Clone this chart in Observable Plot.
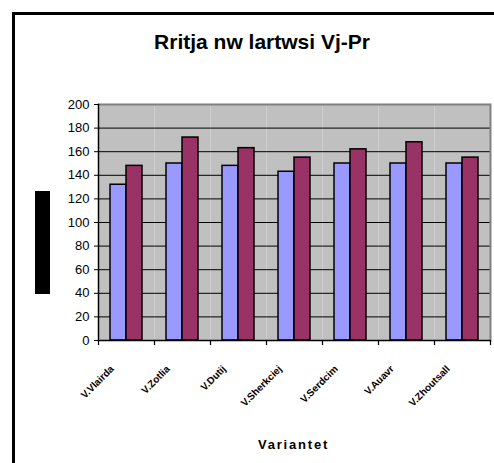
<!DOCTYPE html>
<html><head><meta charset="utf-8">
<script src="https://cdn.jsdelivr.net/npm/d3@7"></script>
<script src="https://cdn.jsdelivr.net/npm/@observablehq/plot@0.6"></script>
<style>
html,body{margin:0;padding:0;background:#fff;overflow:hidden;width:494px;height:463px;}
#wrap{position:relative;width:494px;height:463px;overflow:hidden;font-family:"Liberation Sans",Arial,sans-serif;color:#000;}
#bleft{position:absolute;left:12px;top:12px;width:3px;height:451px;background:#000;}
#btop{position:absolute;left:12px;top:12px;width:482px;height:3px;background:#000;}
#chart{position:absolute;left:0;top:0;}
#title{position:absolute;top:31px;left:13px;width:498px;text-align:center;font-weight:bold;font-size:21px;line-height:21px;white-space:nowrap;}
#xtitle{position:absolute;top:438px;left:95px;width:397px;text-align:center;font-weight:bold;font-size:13px;line-height:13px;letter-spacing:1.8px;}
#ytitle{position:absolute;left:35px;top:191px;width:15px;height:103px;background:#000;color:#000;font-size:11px;overflow:hidden;writing-mode:vertical-rl;transform:rotate(180deg);text-align:center;}
</style>
</head><body>
<div id="wrap">
  <div id="bleft"></div>
  <div id="btop"></div>
  <div id="chart"></div>
  <div id="title">Rritja nw lartwsi Vj-Pr</div>
  <div id="ytitle">Lartwsia (cm)</div>
  <div id="xtitle">Variantet</div>
</div>
<script>
const categories = ["V.Vlairda", "V.Zotlia", "V.Dutij", "V.Sherkciej", "V.Serdcim", "V.Auavr", "V.Zhoutsall"];
const seriesNames = ["Seria 1", "Seria 2"];
const seriesA = [132, 150, 148, 143, 150, 150, 150];
const seriesB = [148, 172, 163, 155, 162, 168, 155];
const yTicks = [0, 20, 40, 60, 80, 100, 120, 140, 160, 180, 200];
const colors = ["#9999FF", "#993366"];

const data = categories.flatMap((c, i) => [
  {cat: c, series: seriesNames[0], value: seriesA[i]},
  {cat: c, series: seriesNames[1], value: seriesB[i]}
]);

const W = 494, H = 463, mt = 104, mb = 123;
const frameH = H - mt - mb;

const chart = Plot.plot({
  width: W, height: H,
  marginLeft: 95, marginRight: 2, marginTop: mt, marginBottom: mb,
  style: {background: "transparent", fontFamily: "'Liberation Sans', Arial, sans-serif", color: "#000"},
  fx: {domain: categories, padding: 0, axis: null, label: null},
  x: {domain: seriesNames, paddingInner: 0, paddingOuter: 0.69, axis: null},
  y: {domain: [0, 200]},
  color: {domain: seriesNames, range: colors},
  marks: [
    Plot.frame({fill: "#c0c0c0", stroke: null}),
    Plot.ruleY(yTicks, {stroke: "#000", strokeWidth: 1}),
    Plot.ruleY([200], {stroke: "#808080", strokeWidth: 2}),
    Plot.frame({anchor: "right", facetAnchor: "right", stroke: "#808080", strokeWidth: 2}),
    Plot.frame({anchor: "left", facetAnchor: "left", stroke: "#000", strokeWidth: 1.5}),
    Plot.frame({anchor: "left", stroke: "#000", strokeWidth: 1.2, insetTop: frameH, insetBottom: -4}),
    Plot.frame({anchor: "right", facetAnchor: "right", stroke: "#000", strokeWidth: 1.2, insetTop: frameH, insetBottom: -4}),
    Plot.barY(data, {fx: "cat", x: "series", y: "value", fill: "series", stroke: "#000", strokeWidth: 1.5}),
    Plot.ruleY([0], {stroke: "#000", strokeWidth: 1.5}),
    Plot.axisY({ticks: yTicks, tickSize: 4, tickPadding: 5, fontSize: 13, label: null}),
    Plot.text(categories, {fx: d => d, text: d => d, frameAnchor: "bottom", rotate: -45, textAnchor: "end", dx: -12, dy: 29, fontSize: 10, fontWeight: "bold"})
  ]
});
document.getElementById("chart").appendChild(chart);
</script>
</body></html>
